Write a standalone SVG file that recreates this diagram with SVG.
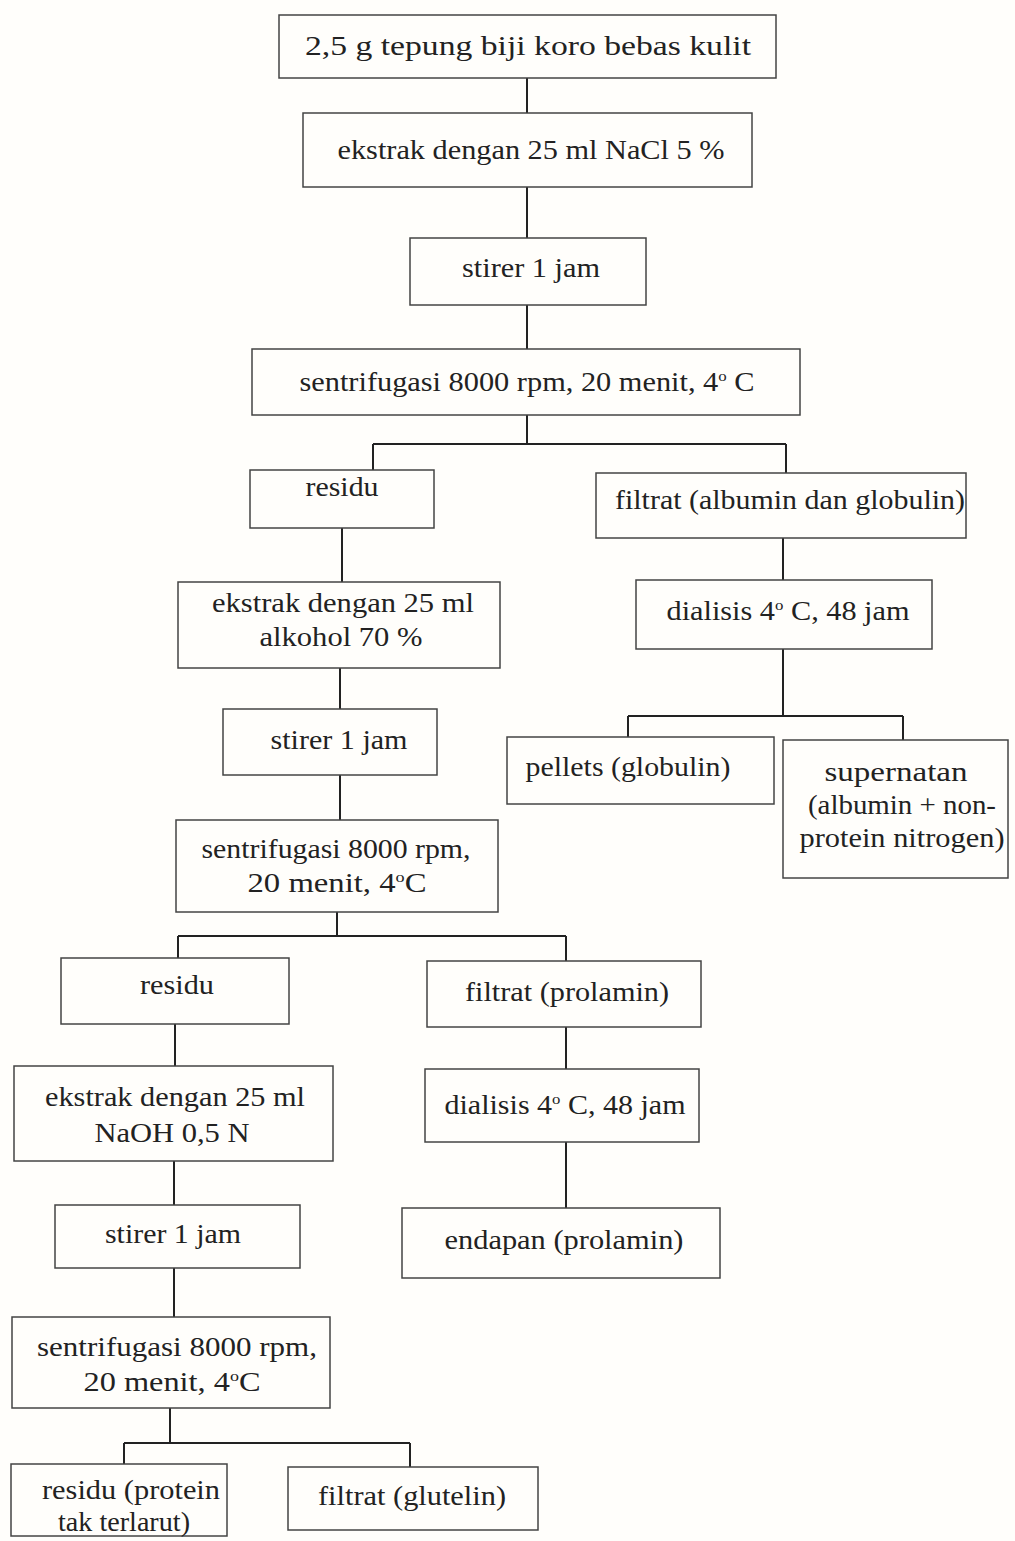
<svg xmlns="http://www.w3.org/2000/svg" width="1015" height="1541" viewBox="0 0 1015 1541">
<style>
.b{fill:none;stroke:#444;stroke-width:1.5}
.t{font-family:"Liberation Serif","Times New Roman",serif;font-size:27px;fill:#222;text-anchor:middle}
.c{fill:none;stroke:#222;stroke-width:2}
</style>
<rect width="1015" height="1541" fill="#fffefb"/>
<g id="connectors">
<path class="c" d="M527 78V113M527 187V238M527 305V349M527 415V444M373 444H786M373 444V470M786 444V473"/>
<path class="c" d="M342 528V582M783 538V580M783 649V716M628 716H903M628 716V737M903 716V740"/>
<path class="c" d="M340 668V709M340 775V820M337 912V936M178 936H566M178 936V958M566 936V961"/>
<path class="c" d="M175 1024V1066M566 1027V1069M566 1142V1208M174 1161V1205M174 1268V1317"/>
<path class="c" d="M170 1408V1443M124 1443H410M124 1443V1464M410 1443V1467"/>
</g>
<g id="n1"><rect class="b" x="279" y="15" width="497" height="63"/><text class="t" x="528" y="55" textLength="446" lengthAdjust="spacingAndGlyphs">2,5 g tepung biji koro bebas kulit</text></g>
<g id="n2"><rect class="b" x="303" y="113" width="449" height="74"/><text class="t" x="531" y="159" textLength="387" lengthAdjust="spacingAndGlyphs">ekstrak dengan 25 ml NaCl 5 %</text></g>
<g id="n3"><rect class="b" x="410" y="238" width="236" height="67"/><text class="t" x="531" y="277" textLength="138" lengthAdjust="spacingAndGlyphs">stirer 1 jam</text></g>
<g id="n4"><rect class="b" x="252" y="349" width="548" height="66"/><text class="t" x="527" y="391" textLength="455" lengthAdjust="spacingAndGlyphs">sentrifugasi 8000 rpm, 20 menit, 4<tspan dy="-10" font-size="15">o</tspan><tspan dy="10"> C</tspan></text></g>
<g id="n5"><rect class="b" x="250" y="470" width="184" height="58"/><text class="t" x="342" y="496" textLength="73" lengthAdjust="spacingAndGlyphs">residu</text></g>
<g id="n6"><rect class="b" x="596" y="473" width="370" height="65"/><text class="t" x="790" y="509" textLength="350" lengthAdjust="spacingAndGlyphs">filtrat (albumin dan globulin)</text></g>
<g id="n7"><rect class="b" x="178" y="582" width="322" height="86"/><text class="t" x="343" y="612" textLength="262" lengthAdjust="spacingAndGlyphs">ekstrak dengan 25 ml</text><text class="t" x="341" y="646" textLength="163" lengthAdjust="spacingAndGlyphs">alkohol 70 %</text></g>
<g id="n8"><rect class="b" x="636" y="580" width="296" height="69"/><text class="t" x="788" y="620" textLength="243" lengthAdjust="spacingAndGlyphs">dialisis 4<tspan dy="-10" font-size="15">o</tspan><tspan dy="10"> C, 48 jam</tspan></text></g>
<g id="n9"><rect class="b" x="223" y="709" width="214" height="66"/><text class="t" x="339" y="749" textLength="137" lengthAdjust="spacingAndGlyphs">stirer 1 jam</text></g>
<g id="n10"><rect class="b" x="507" y="737" width="267" height="67"/><text class="t" x="628" y="776" textLength="205" lengthAdjust="spacingAndGlyphs">pellets (globulin)</text></g>
<g id="n11"><rect class="b" x="783" y="740" width="225" height="138"/><text class="t" x="896" y="781" textLength="143" lengthAdjust="spacingAndGlyphs">supernatan</text><text class="t" x="902" y="814" textLength="188" lengthAdjust="spacingAndGlyphs">(albumin + non-</text><text class="t" x="902" y="847" textLength="205" lengthAdjust="spacingAndGlyphs">protein nitrogen)</text></g>
<g id="n12"><rect class="b" x="176" y="820" width="322" height="92"/><text class="t" x="336" y="858" textLength="269" lengthAdjust="spacingAndGlyphs">sentrifugasi 8000 rpm,</text><text class="t" x="337" y="892" textLength="179" lengthAdjust="spacingAndGlyphs">20 menit, 4<tspan dy="-10" font-size="15">o</tspan><tspan dy="10">C</tspan></text></g>
<g id="n13"><rect class="b" x="61" y="958" width="228" height="66"/><text class="t" x="177" y="994" textLength="74" lengthAdjust="spacingAndGlyphs">residu</text></g>
<g id="n14"><rect class="b" x="427" y="961" width="274" height="66"/><text class="t" x="567" y="1001" textLength="204" lengthAdjust="spacingAndGlyphs">filtrat (prolamin)</text></g>
<g id="n15"><rect class="b" x="14" y="1066" width="319" height="95"/><text class="t" x="175" y="1106" textLength="260" lengthAdjust="spacingAndGlyphs">ekstrak dengan 25 ml</text><text class="t" x="172" y="1142" textLength="155" lengthAdjust="spacingAndGlyphs">NaOH 0,5 N</text></g>
<g id="n16"><rect class="b" x="425" y="1069" width="274" height="73"/><text class="t" x="565" y="1114" textLength="241" lengthAdjust="spacingAndGlyphs">dialisis 4<tspan dy="-10" font-size="15">o</tspan><tspan dy="10"> C, 48 jam</tspan></text></g>
<g id="n17"><rect class="b" x="55" y="1205" width="245" height="63"/><text class="t" x="173" y="1243" textLength="136" lengthAdjust="spacingAndGlyphs">stirer 1 jam</text></g>
<g id="n18"><rect class="b" x="402" y="1208" width="318" height="70"/><text class="t" x="564" y="1249" textLength="239" lengthAdjust="spacingAndGlyphs">endapan (prolamin)</text></g>
<g id="n19"><rect class="b" x="12" y="1317" width="318" height="91"/><text class="t" x="177" y="1356" textLength="280" lengthAdjust="spacingAndGlyphs">sentrifugasi 8000 rpm,</text><text class="t" x="172" y="1391" textLength="177" lengthAdjust="spacingAndGlyphs">20 menit, 4<tspan dy="-10" font-size="15">o</tspan><tspan dy="10">C</tspan></text></g>
<g id="n20"><rect class="b" x="11" y="1464" width="216" height="72"/><text class="t" x="131" y="1499" textLength="178" lengthAdjust="spacingAndGlyphs">residu (protein</text><text class="t" x="124" y="1531" textLength="132" lengthAdjust="spacingAndGlyphs">tak terlarut)</text></g>
<g id="n21"><rect class="b" x="288" y="1467" width="250" height="63"/><text class="t" x="412" y="1505" textLength="188" lengthAdjust="spacingAndGlyphs">filtrat (glutelin)</text></g>
</svg>
